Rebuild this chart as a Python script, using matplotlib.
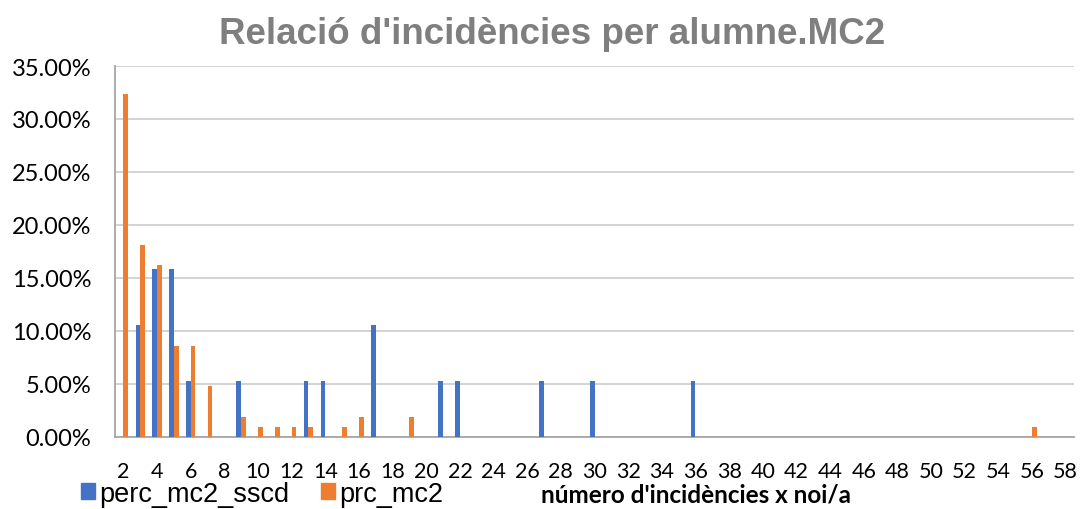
"""Relacio d'incidencies per alumne - MC2"""

from matplotlib import pyplot as plt
from matplotlib.patches import Patch
from matplotlib.ticker import PercentFormatter
import numpy as np

# incidencies per alumne: 2 .. 58
categories = list(range(2, 59))

# percentatges llegits del grafic (la resta de categories es 0)
sscd_values = {3: 10.53, 4: 15.79, 5: 15.79, 6: 5.26, 9: 5.26, 13: 5.26,
               14: 5.26, 17: 10.53, 21: 5.26, 22: 5.26, 27: 5.26, 30: 5.26,
               36: 5.26}
mc2_values = {2: 32.38, 3: 18.10, 4: 16.19, 5: 8.57, 6: 8.57, 7: 4.76,
              9: 1.90, 10: 0.95, 11: 0.95, 12: 0.95, 13: 0.95, 15: 0.95,
              16: 1.90, 19: 1.90, 56: 0.95}

series_names = ['perc_mc2_sscd', 'prc_mc2']
colors = ['#4472C4', '#ED7D31']


def generate_plot():
    """Draw the grouped bar chart"""
    x = np.arange(len(categories))
    sscd = [sscd_values.get(c, 0) for c in categories]
    mc2 = [mc2_values.get(c, 0) for c in categories]

    fig = plt.figure(figsize=(10.82, 5.10), dpi=100)
    ax = fig.add_axes([0.1063, 0.1418, 0.8863, 0.7268])

    w = 0.28
    ax.bar(x - w / 2, sscd, width=w, color=colors[0], zorder=3)
    ax.bar(x + w / 2, mc2, width=w, color=colors[1], zorder=3)

    ax.set_xlim(-0.5, len(categories) - 0.5)
    ax.set_ylim(0, 35)
    ax.set_yticks(np.arange(0, 36, 5))
    ax.yaxis.set_major_formatter(PercentFormatter(decimals=2))
    ax.set_xticks(x[::2])
    ax.set_xticklabels([str(c) for c in categories[::2]])
    ax.grid(axis='y', color='#D0D0D0', linewidth=1.3, zorder=0)

    for side in ['top', 'right']:
        ax.spines[side].set_visible(False)
    for side in ['left', 'bottom']:
        ax.spines[side].set_color('#A6A6A6')
        ax.spines[side].set_linewidth(1.3)

    ax.tick_params(axis='both', length=0, colors='#000000')
    ax.tick_params(axis='x', pad=17.5, labelsize=15.5)
    ax.tick_params(axis='y', pad=17, labelsize=17)
    for lbl in ax.get_xticklabels() + ax.get_yticklabels():
        lbl.set_fontfamily('Lato')

    fig.text(0.51, 0.932, "Relació d'incidències per alumne.MC2",
             ha='center', va='center', fontsize=26.5, fontweight='bold',
             color='#7F7F7F', family='Liberation Sans')

    handles = [Patch(color=c, label=n) for c, n in zip(colors, series_names)]
    fig.legend(handles=handles, loc='center left',
               bbox_to_anchor=(0.075, 0.03), ncol=2, frameon=False,
               prop={'family': 'Liberation Sans', 'size': 19.5},
               handlelength=0.5, handleheight=0.5, handletextpad=0.15,
               columnspacing=1.2, borderpad=0, borderaxespad=0)

    fig.text(0.643, 0.03, "número d'incidències x noi/a", ha='center',
             va='center', fontsize=17.5, fontweight='bold', family='Lato')

    fig.savefig('out.png', dpi=100)


if __name__ == '__main__':
    generate_plot()
